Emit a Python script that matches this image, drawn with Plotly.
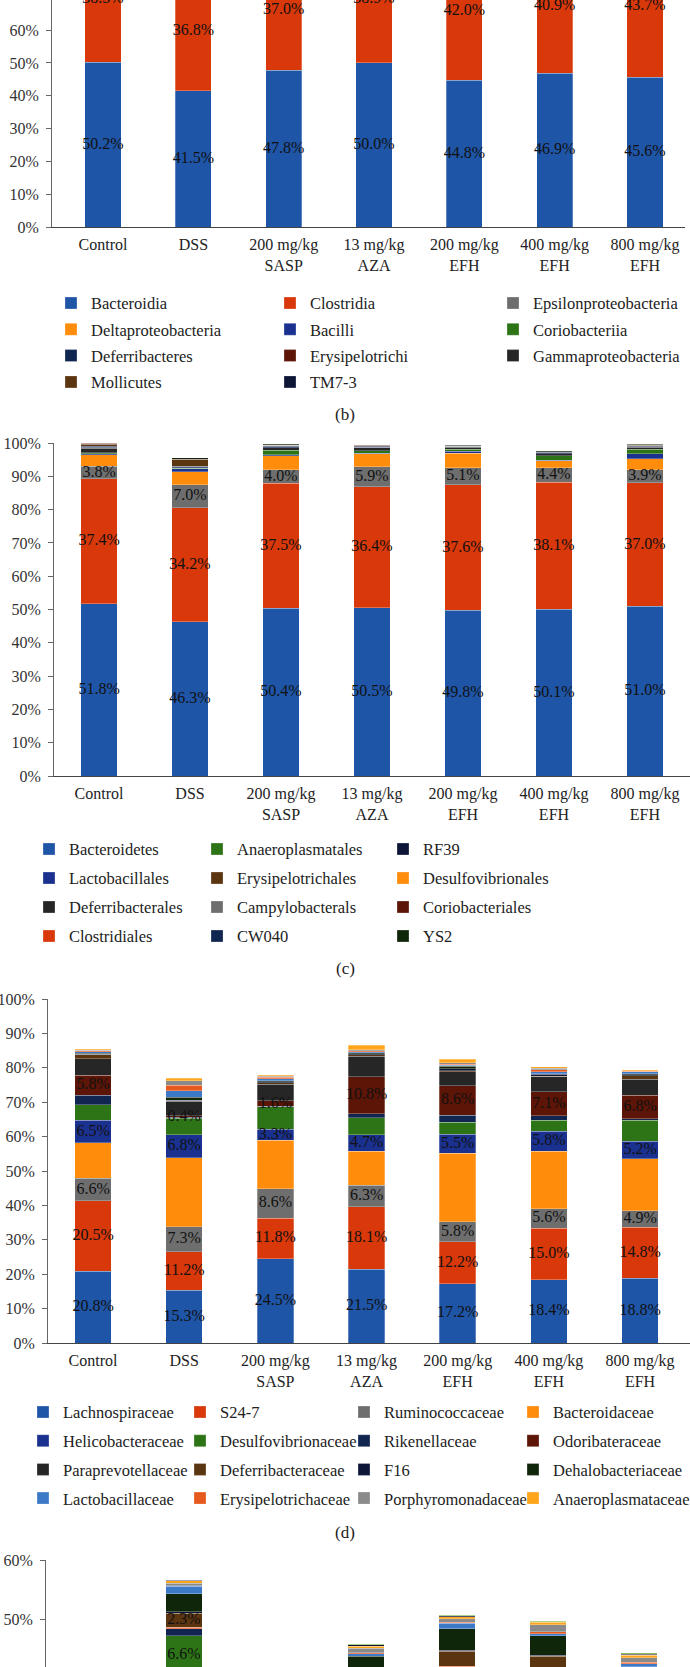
import plotly.graph_objects as go

W, H = 690, 1667
FONT = "Liberation Serif"

groups = ["Control", "DSS", "200 mg/kg<br>SASP", "13 mg/kg<br>AZA",
          "200 mg/kg<br>EFH", "400 mg/kg<br>EFH", "800 mg/kg<br>EFH"]
tick_pct = [0, 10, 20, 30, 40, 50, 60, 70, 80, 90, 100]

# ---------------- panel (b): class level ----------------
b_names = ["Bacteroidia", "Clostridia", "Epsilonproteobacteria", "Deltaproteobacteria",
           "Bacilli", "Coriobacteriia", "Deferribacteres", "Erysipelotrichi",
           "Gammaproteobacteria", "Mollicutes", "TM7-3"]
b_bacteroidia = [50.2, 41.5, 47.8, 50.0, 44.8, 46.9, 45.6]
b_clostridia = [38.5, 36.8, 37.0, 38.9, 42.0, 40.9, 43.7]
b_epsilon = [3.8, 7.0, 4.0, 5.9, 5.1, 4.4, 3.9]
b_delta = [3.4, 3.8, 4.2, 3.9, 4.4, 2.0, 3.4]
b_bacilli = [0.4, 1.0, 0.3, 0.2, 0.6, 0.2, 1.5]
b_corio = [0.2, 0.1, 0.1, 0.1, 0.1, 0.1, 0.1]
b_deferri = [1.4, 0.2, 0.8, 0.9, 0.6, 0.5, 0.6]
b_erysi = [0.7, 2.0, 0.1, 0.2, 0.1, 0.1, 0.2]
b_gamma = [0.3, 0.3, 0.4, 0.2, 0.2, 0.3, 0.3]
b_molli = [0.3, 0.1, 1.4, 0.8, 0.6, 1.4, 1.3]
b_tm7 = [0.2, 0.1, 0.2, 0.2, 0.1, 0.2, 0.2]
b_values = [b_bacteroidia, b_clostridia, b_epsilon, b_delta, b_bacilli, b_corio,
            b_deferri, b_erysi, b_gamma, b_molli, b_tm7]
all7 = [0, 1, 2, 3, 4, 5, 6]
b_labelled = {"Bacteroidia": all7, "Clostridia": all7}

# ---------------- panel (c): order level ----------------
c_names = ["Bacteroidetes", "Clostridiales", "Campylobacterals", "Desulfovibrionales",
           "Lactobacillales", "Anaeroplasmatales", "Deferribacterales", "CW040", "RF39",
           "Erysipelotrichales", "Coriobacteriales", "YS2"]
c_bacteroidetes = [51.8, 46.3, 50.4, 50.5, 49.8, 50.1, 51.0]
c_clostridiales = [37.4, 34.2, 37.5, 36.4, 37.6, 38.1, 37.0]
c_campylo = [3.8, 7.0, 4.0, 5.9, 5.1, 4.4, 3.9]
c_desulfo = [3.4, 3.8, 4.2, 3.9, 4.4, 2.0, 3.4]
c_lacto = [0.4, 1.0, 0.3, 0.2, 0.6, 0.2, 1.5]
c_anaero = [0.3, 0.1, 1.4, 0.8, 0.6, 1.4, 1.3]
c_deferri = [1.4, 0.2, 0.8, 0.9, 0.6, 0.5, 0.6]
c_cw040 = [0.3, 0.3, 0.4, 0.2, 0.2, 0.3, 0.3]
c_rf39 = [0.2, 0.1, 0.2, 0.2, 0.1, 0.2, 0.2]
c_erysi = [0.7, 2.0, 0.1, 0.2, 0.1, 0.1, 0.2]
c_corio = [0.2, 0.1, 0.1, 0.1, 0.1, 0.1, 0.1]
c_ys2 = [0.1, 0.4, 0.2, 0.2, 0.1, 0.2, 0.1]
c_values = [c_bacteroidetes, c_clostridiales, c_campylo, c_desulfo, c_lacto, c_anaero,
            c_deferri, c_cw040, c_rf39, c_erysi, c_corio, c_ys2]
c_labelled = {"Bacteroidetes": all7, "Clostridiales": all7, "Campylobacterals": all7}
# legend grid of panel (c): (column, row)
c_legend_cells = {"Bacteroidetes": (0, 0), "Lactobacillales": (0, 1), "Deferribacterales": (0, 2),
                  "Clostridiales": (0, 3), "Anaeroplasmatales": (1, 0), "Erysipelotrichales": (1, 1),
                  "Campylobacterals": (1, 2), "CW040": (1, 3), "RF39": (2, 0),
                  "Desulfovibrionales": (2, 1), "Coriobacteriales": (2, 2), "YS2": (2, 3)}

# ---------------- panel (d): family level ----------------
d_names = ["Lachnospiraceae", "S24-7", "Ruminococcaceae", "Bacteroidaceae",
           "Helicobacteraceae", "Desulfovibrionaceae", "Rikenellaceae", "Odoribateraceae",
           "Paraprevotellaceae", "Deferribacteraceae", "F16", "Dehalobacteriaceae",
           "Lactobacillaceae", "Erysipelotrichaceae", "Porphyromonadaceae", "Anaeroplasmataceae"]
d_lachno = [20.8, 15.3, 24.5, 21.5, 17.2, 18.4, 18.8]
d_s247 = [20.5, 11.2, 11.8, 18.1, 12.2, 15.0, 14.8]
d_rumino = [6.6, 7.3, 8.6, 6.3, 5.8, 5.6, 4.9]
d_bacteroidaceae = [10.3, 20.0, 14.0, 9.9, 20.0, 16.8, 15.0]
d_helico = [6.5, 6.8, 3.3, 4.7, 5.5, 5.8, 5.2]
d_desulfo = [4.5, 4.8, 6.5, 5.0, 3.5, 3.2, 6.1]
d_rikenell = [2.8, 0.2, 0.1, 1.1, 2.0, 1.2, 0.4]
d_odori = [5.8, 0.4, 1.6, 10.8, 8.6, 7.1, 6.8]
d_paraprev = [4.8, 4.3, 4.8, 6.0, 4.1, 4.3, 4.7]
d_deferri = [1.2, 0.1, 0.4, 0.4, 0.3, 0.2, 1.0]
d_f16 = [0.2, 0.1, 0.4, 0.3, 0.5, 0.5, 0.3]
d_dehalo = [0.3, 1.0, 0.3, 0.3, 0.7, 0.2, 0.2]
d_lactob = [0.4, 1.9, 0.5, 0.2, 0.4, 0.6, 0.6]
d_erysi = [0.2, 1.6, 0.4, 0.3, 0.3, 0.5, 0.2]
d_porphy = [0.2, 1.3, 0.4, 0.3, 0.4, 0.4, 0.2]
d_anaero = [0.3, 0.6, 0.3, 1.3, 1.0, 0.5, 0.2]
d_values = [d_lachno, d_s247, d_rumino, d_bacteroidaceae, d_helico, d_desulfo, d_rikenell,
            d_odori, d_paraprev, d_deferri, d_f16, d_dehalo, d_lactob, d_erysi, d_porphy, d_anaero]
d_labelled = {"Lachnospiraceae": all7, "S24-7": all7, "Ruminococcaceae": all7,
              "Helicobacteraceae": all7, "Odoribateraceae": all7}

# ---------------- panel (e): genus level (upper part only visible) ----------------
e_names = ["Bacteroides", "Oscillospira", "Ruminococcus", "Helicobacter_g",
           "Desulfovibrio", "Odoribacter", "Coprococcus", "Mucispirillum", "Dorea",
           "Dehalobacterium", "Lactobacillus", "Allobaculum", "Parabacteroides",
           "Anaeroplasma", "Adlercreutzia", "Prevotella"]
e_bacteroides = [12.0, 10.0, 11.0, 13.0, 10.0, 11.0, 11.0]
e_oscillo = [9.0, 7.0, 8.0, 10.0, 7.3, 8.6, 8.4]
e_rumino = [5.0, 5.6, 4.7, 5.7, 4.0, 4.0, 4.0]
e_helico = [3.5, 18.0, 3.5, 8.0, 18.0, 15.0, 12.0]
e_desulfo = [3.0, 6.6, 4.0, 3.0, 2.0, 2.5, 3.0]
e_odori = [1.0, 1.2, 0.8, 0.8, 0.6, 0.5, 0.5]
e_coproc = [0.2, 0.3, 0.2, 0.2, 0.2, 0.2, 0.2]
e_mucis = [1.5, 2.3, 1.0, 0.5, 2.5, 2.0, 0.8]
e_dorea = [0.2, 0.3, 0.2, 0.1, 0.2, 0.1, 0.1]
e_dehalo = [2.0, 3.0, 2.5, 2.5, 3.6, 3.3, 2.0]
e_lactob = [0.5, 1.3, 0.5, 0.4, 0.9, 0.4, 0.5]
e_allob = [0.3, 0.1, 0.3, 0.2, 0.2, 0.3, 0.3]
e_parab = [0.5, 0.4, 0.6, 0.7, 0.6, 1.2, 0.7]
e_anaero = [0.4, 0.4, 0.3, 0.4, 0.3, 0.4, 0.4]
e_adler = [0.2, 0.05, 0.2, 0.2, 0.2, 0.1, 0.2]
e_prevo = [0.2, 0.15, 0.2, 0.2, 0.2, 0.2, 0.3]
e_values = [e_bacteroides, e_oscillo, e_rumino, e_helico, e_desulfo, e_odori, e_coproc,
            e_mucis, e_dorea, e_dehalo, e_lactob, e_allob, e_parab, e_anaero, e_adler, e_prevo]
e_labelled = {"Desulfovibrio": [1], "Mucispirillum": [1]}

# ---------------- styling ----------------
BLUE, RED, GRAY, ORANGE = "#1F55A6", "#D8380A", "#6E6E6E", "#FF8C0A"
DBLUE, GREEN, NAVY, DRED = "#1B318F", "#2D7417", "#10254F", "#5C1507"
BLACK, BROWN, DNAVY, DGREEN = "#262626", "#5B3410", "#0D1636", "#10260A"
LBLUE, ORED, GRAY2, YORANGE, LGREEN = "#3C7AC8", "#E65A20", "#8A8A8A", "#FFA51C", "#8CBF5A"

b_colors = [BLUE, RED, GRAY, ORANGE, DBLUE, GREEN, NAVY, DRED, BLACK, BROWN, DNAVY]
c_colors = [BLUE, RED, GRAY, ORANGE, DBLUE, GREEN, BLACK, NAVY, DNAVY, BROWN, DRED, DGREEN]
d_colors = [BLUE, RED, GRAY, ORANGE, DBLUE, GREEN, NAVY, DRED, BLACK, BROWN, DNAVY, DGREEN,
            LBLUE, ORED, GRAY2, YORANGE]
e_colors = [BLUE, RED, GRAY, ORANGE, GREEN, NAVY, ORED, BROWN, DNAVY, DGREEN, LBLUE, ORED,
            GRAY2, YORANGE, DNAVY, LGREEN]

fig = go.Figure()
text_layers = []


def add_panel(names, values, colors, xa, ya, labelled, legend_of=None):
    base = [0.0] * len(groups)
    for i, (n, v) in enumerate(zip(names, values)):
        leg = legend_of(i, n) if legend_of else None
        fig.add_trace(go.Bar(
            x=groups, y=v, name=n, xaxis=xa, yaxis=ya, width=0.4,
            marker=dict(color=colors[i], line=dict(width=0.5, color="rgba(255,255,255,0.55)")),
            textposition="none", cliponaxis=True,
            showlegend=leg is not None,
            legend=leg[0] if leg else "legend",
            legendgroup=n + "_" + ya, legendrank=leg[1] if leg else 1000,
            hoverinfo="skip"))
        if n in labelled:
            pts = labelled[n]
            text_layers.append(dict(
                x=[groups[k] for k in pts],
                y=[base[k] + v[k] / 2 for k in pts],
                text=[f"{v[k]:.1f}%" for k in pts], xa=xa, ya=ya))
        base = [b + val for b, val in zip(base, v)]


add_panel(b_names, b_values, b_colors, "x", "y", b_labelled,
          lambda i, n: (["legend", "legend2", "legend3"][i % 3], i // 3))
add_panel(c_names, c_values, c_colors, "x2", "y2", c_labelled,
          lambda i, n: (["legend4", "legend5", "legend6"][c_legend_cells[n][0]],
                        c_legend_cells[n][1]))
add_panel(d_names, d_values, d_colors, "x3", "y3", d_labelled,
          lambda i, n: (["legend7", "legend8", "legend9", "legend10"][i % 4], i // 4))
add_panel(e_names, e_values, e_colors, "x4", "y4", e_labelled, None)

# data labels drawn on top of all stacked segments
for t in text_layers:
    fig.add_trace(go.Scatter(
        x=t["x"], y=t["y"], text=t["text"], mode="text", xaxis=t["xa"], yaxis=t["ya"],
        textposition="middle center", cliponaxis=True, showlegend=False, hoverinfo="skip",
        textfont=dict(family=FONT, size=16, color="#111111")))


def py(px):  # page pixel (from top) -> paper fraction
    return 1 - px / H


def pxx(px):
    return px / W


tickfont = dict(family=FONT, size=16, color="#333333")
ax_common = dict(showgrid=False, zeroline=False, automargin=False, fixedrange=True)


def xaxis(dom, rng, anchor, labels=True):
    return dict(domain=dom, range=rng, anchor=anchor, type="category",
                showline=True, linecolor="#444444", linewidth=1, ticks="",
                showticklabels=labels, ticklabelstandoff=3,
                tickfont=dict(family=FONT, size=16, color="#222222"), **ax_common)


def yaxis(dom, rng, anchor):
    return dict(domain=dom, range=rng, anchor=anchor, tickvals=tick_pct,
                ticktext=[f"{t}%" for t in tick_pct], showline=True, linecolor="#666666",
                linewidth=1, ticks="outside", ticklen=5, tickcolor="#666666",
                tickfont=tickfont, ticklabelstandoff=4, **ax_common)


lay = dict(
    width=W, height=H, margin=dict(l=0, r=0, t=0, b=0, autoexpand=False),
    paper_bgcolor="white", plot_bgcolor="white", barmode="stack",
    font=dict(family=FONT, size=16, color="#222222"),
    xaxis=xaxis([pxx(52), pxx(685)], [-0.565, 6.443], "y"),
    yaxis=yaxis([py(227), 1.0], [0, 69.2], "x"),
    xaxis2=xaxis([pxx(54), 1.0], [-0.495, 6.495], "y2"),
    yaxis2=yaxis([py(776), py(443)], [0, 100], "x2"),
    xaxis3=xaxis([pxx(48), 1.0], [-0.494, 6.548], "y3"),
    yaxis3=yaxis([py(1343), py(999)], [0, 100], "x3"),
    xaxis4=xaxis([pxx(46), 1.0], [-0.516, 6.56], "y4", labels=False),
    yaxis4=yaxis([0.0, py(1560)], [41.96, 60], "x4"),
)


def legend_box(x_text, y_first, spacing, size):
    item_h = size * 1.3 + 3
    return dict(x=pxx(x_text - 40), y=py(y_first - (item_h / 2 + 5)), xanchor="left",
                yanchor="top", orientation="v", traceorder="grouped",
                tracegroupgap=max(spacing - item_h, 0), bgcolor="rgba(0,0,0,0)",
                font=dict(family=FONT, size=size, color="#222222"),
                itemclick=False, itemdoubleclick=False)


legend_keys = ["legend", "legend2", "legend3", "legend4", "legend5", "legend6",
               "legend7", "legend8", "legend9", "legend10"]
legend_specs = [(91, 303, 26.3, 16.5), (310, 303, 26.3, 16.5), (533, 303, 26.3, 16.5),
                (69, 849, 29.0, 16.5), (237, 849, 29.0, 16.5), (423, 849, 29.0, 16.5),
                (63, 1412, 28.7, 16.5), (220, 1412, 28.7, 16.5), (384, 1412, 28.7, 16.5),
                (553, 1412, 28.7, 16.5)]
for k, (xt, yf, sp, sz) in zip(legend_keys, legend_specs):
    lay[k] = legend_box(xt, yf, sp, sz)

captions = [("(b)", 414), ("(c)", 969), ("(d)", 1532)]
lay["annotations"] = [dict(text=t, x=0.5, y=py(yc), xref="paper", yref="paper",
                           showarrow=False, xanchor="center", yanchor="middle",
                           font=dict(family=FONT, size=17, color="#222222"))
                      for t, yc in captions]

fig.update_layout(**lay)
# remove the browser's default 8px page margin so the figure sits at the page origin
fig.write_html("out.html", config={"displayModeBar": False},
               post_script="document.body.style.margin='0';document.body.style.padding='0';")
